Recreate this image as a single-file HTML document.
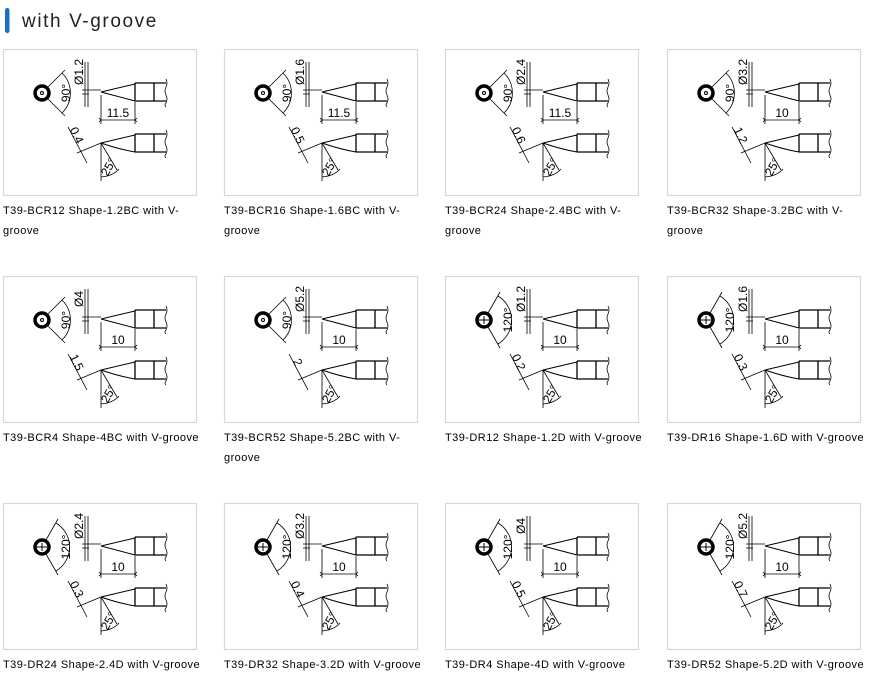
<!DOCTYPE html>
<html><head><meta charset="utf-8">
<style>
html,body{margin:0;padding:0;background:#fff;}
body{width:881px;height:694px;overflow:hidden;}
svg text{font-family:"Liberation Sans","Noto Sans CJK JP",sans-serif;}
.cap{font-size:11px;letter-spacing:0.45px;}
</style></head>
<body>
<svg width="881" height="694" viewBox="0 0 881 694" xmlns="http://www.w3.org/2000/svg">
<defs>
<g id="base" fill="none" stroke="#000" stroke-width="0.8">
  <rect x="0.5" y="0.5" width="193" height="146" stroke="#d8d8d8" stroke-width="1.2"/>
  <path d="M98 43 L132 35 M98 43 L132 52" stroke-width="1"/>
  <path d="M132 34 H163 M132 52 H163 M132 34 V52 M151 34 V52" stroke-width="1.3"/>
  <path d="M163 30 q2 4 0 8 q-2 4 0 8 q2 4 0 8 q-2 2 0 4"/>
  <path d="M82 13 V58 M85 13 V58 M79 41 H98 M79 45 H86"/>
  <path d="M98 46 V75 M132 53 V75 M98 71 H132"/>
  <path d="M96 69 L98 71 L96 73 M134 69 L132 71 L134 73"/>
  <path d="M98 94 L132 86 M98 94 Q115 100 132 103" stroke-width="1"/>
  <path d="M132 85 H163 M132 103 H163 M132 85 V103 M151 85 V103" stroke-width="1.3"/>
  <path d="M163 81 q2 4 0 8 q-2 4 0 8 q2 4 0 8 q-2 2 0 4"/>
  <path d="M65 78 L84 114 M98 94 L74 104"/>
  <path d="M98 94 V132 M98 94 L114 121 M98 128 Q110 127 116 120"/>
</g>
<g id="c90" fill="none" stroke="#000" stroke-width="0.8">
  <circle cx="39" cy="44" r="7" stroke-width="3.5"/>
  <circle cx="39" cy="44" r="1.5" stroke-width="1"/>
  <path d="M45 38 L62 21 M45 50 L62 67 M59 24 A28 28 0 0 1 59 64"/>
</g>
<g id="c120" fill="none" stroke="#000" stroke-width="0.8">
  <circle cx="39" cy="44" r="7" stroke-width="3.5"/>
  <path d="M34 44 H44 M39 40 V48" stroke-width="1"/>
  <path d="M43 37 L55 16 M43 51 L55 72 M53 20 A28 28 0 0 1 53 68"/>
</g>
</defs>

<rect x="5" y="8" width="4.5" height="25" rx="2.2" fill="#1a6fc0"/>
<text x="22" y="27" font-size="19" letter-spacing="1.6" fill="#222">with V-groove</text>

<g font-size="12" fill="#000">
<g transform="translate(3,49)"><use href="#base"/><use href="#c90"/>
<text transform="translate(80,23) rotate(-90)" text-anchor="middle">Ø1.2</text>
<text transform="translate(67,44) rotate(-90)" text-anchor="middle">90°</text>
<text x="115" y="68" text-anchor="middle">11.5</text>
<text transform="translate(70,88) rotate(65)" text-anchor="middle">0.4</text>
<text transform="translate(109,120) rotate(-60)" text-anchor="middle">25°</text></g>

<g transform="translate(224,49)"><use href="#base"/><use href="#c90"/>
<text transform="translate(80,23) rotate(-90)" text-anchor="middle">Ø1.6</text>
<text transform="translate(67,44) rotate(-90)" text-anchor="middle">90°</text>
<text x="115" y="68" text-anchor="middle">11.5</text>
<text transform="translate(70,88) rotate(65)" text-anchor="middle">0.5</text>
<text transform="translate(109,120) rotate(-60)" text-anchor="middle">25°</text></g>

<g transform="translate(445,49)"><use href="#base"/><use href="#c90"/>
<text transform="translate(80,23) rotate(-90)" text-anchor="middle">Ø2.4</text>
<text transform="translate(67,44) rotate(-90)" text-anchor="middle">90°</text>
<text x="115" y="68" text-anchor="middle">11.5</text>
<text transform="translate(70,88) rotate(65)" text-anchor="middle">0.6</text>
<text transform="translate(109,120) rotate(-60)" text-anchor="middle">25°</text></g>

<g transform="translate(667,49)"><use href="#base"/><use href="#c90"/>
<text transform="translate(80,23) rotate(-90)" text-anchor="middle">Ø3.2</text>
<text transform="translate(67,44) rotate(-90)" text-anchor="middle">90°</text>
<text x="115" y="68" text-anchor="middle">10</text>
<text transform="translate(70,88) rotate(65)" text-anchor="middle">1.2</text>
<text transform="translate(109,120) rotate(-60)" text-anchor="middle">25°</text></g>

<g transform="translate(3,276)"><use href="#base"/><use href="#c90"/>
<text transform="translate(80,23) rotate(-90)" text-anchor="middle">Ø4</text>
<text transform="translate(67,44) rotate(-90)" text-anchor="middle">90°</text>
<text x="115" y="68" text-anchor="middle">10</text>
<text transform="translate(70,88) rotate(65)" text-anchor="middle">1.5</text>
<text transform="translate(109,120) rotate(-60)" text-anchor="middle">25°</text></g>

<g transform="translate(224,276)"><use href="#base"/><use href="#c90"/>
<text transform="translate(80,23) rotate(-90)" text-anchor="middle">Ø5.2</text>
<text transform="translate(67,44) rotate(-90)" text-anchor="middle">90°</text>
<text x="115" y="68" text-anchor="middle">10</text>
<text transform="translate(70,88) rotate(65)" text-anchor="middle">2</text>
<text transform="translate(109,120) rotate(-60)" text-anchor="middle">25°</text></g>

<g transform="translate(445,276)"><use href="#base"/><use href="#c120"/>
<text transform="translate(80,23) rotate(-90)" text-anchor="middle">Ø1.2</text>
<text transform="translate(67,44) rotate(-90)" text-anchor="middle">120°</text>
<text x="115" y="68" text-anchor="middle">10</text>
<text transform="translate(70,88) rotate(65)" text-anchor="middle">0.2</text>
<text transform="translate(109,120) rotate(-60)" text-anchor="middle">25°</text></g>

<g transform="translate(667,276)"><use href="#base"/><use href="#c120"/>
<text transform="translate(80,23) rotate(-90)" text-anchor="middle">Ø1.6</text>
<text transform="translate(67,44) rotate(-90)" text-anchor="middle">120°</text>
<text x="115" y="68" text-anchor="middle">10</text>
<text transform="translate(70,88) rotate(65)" text-anchor="middle">0.3</text>
<text transform="translate(109,120) rotate(-60)" text-anchor="middle">25°</text></g>

<g transform="translate(3,503)"><use href="#base"/><use href="#c120"/>
<text transform="translate(80,23) rotate(-90)" text-anchor="middle">Ø2.4</text>
<text transform="translate(67,44) rotate(-90)" text-anchor="middle">120°</text>
<text x="115" y="68" text-anchor="middle">10</text>
<text transform="translate(70,88) rotate(65)" text-anchor="middle">0.3</text>
<text transform="translate(109,120) rotate(-60)" text-anchor="middle">25°</text></g>

<g transform="translate(224,503)"><use href="#base"/><use href="#c120"/>
<text transform="translate(80,23) rotate(-90)" text-anchor="middle">Ø3.2</text>
<text transform="translate(67,44) rotate(-90)" text-anchor="middle">120°</text>
<text x="115" y="68" text-anchor="middle">10</text>
<text transform="translate(70,88) rotate(65)" text-anchor="middle">0.4</text>
<text transform="translate(109,120) rotate(-60)" text-anchor="middle">25°</text></g>

<g transform="translate(445,503)"><use href="#base"/><use href="#c120"/>
<text transform="translate(80,23) rotate(-90)" text-anchor="middle">Ø4</text>
<text transform="translate(67,44) rotate(-90)" text-anchor="middle">120°</text>
<text x="115" y="68" text-anchor="middle">10</text>
<text transform="translate(70,88) rotate(65)" text-anchor="middle">0.5</text>
<text transform="translate(109,120) rotate(-60)" text-anchor="middle">25°</text></g>

<g transform="translate(667,503)"><use href="#base"/><use href="#c120"/>
<text transform="translate(80,23) rotate(-90)" text-anchor="middle">Ø5.2</text>
<text transform="translate(67,44) rotate(-90)" text-anchor="middle">120°</text>
<text x="115" y="68" text-anchor="middle">10</text>
<text transform="translate(70,88) rotate(65)" text-anchor="middle">0.7</text>
<text transform="translate(109,120) rotate(-60)" text-anchor="middle">25°</text></g>
</g>

<g fill="#000">
<text class="cap" x="3" y="214">T39-BCR12 Shape-1.2BC with V-</text>
<text class="cap" x="3" y="234">groove</text>
<text class="cap" x="224" y="214">T39-BCR16 Shape-1.6BC with V-</text>
<text class="cap" x="224" y="234">groove</text>
<text class="cap" x="445" y="214">T39-BCR24 Shape-2.4BC with V-</text>
<text class="cap" x="445" y="234">groove</text>
<text class="cap" x="667" y="214">T39-BCR32 Shape-3.2BC with V-</text>
<text class="cap" x="667" y="234">groove</text>
<text class="cap" x="3" y="441">T39-BCR4 Shape-4BC with V-groove</text>
<text class="cap" x="224" y="441">T39-BCR52 Shape-5.2BC with V-</text>
<text class="cap" x="224" y="461">groove</text>
<text class="cap" x="445" y="441">T39-DR12 Shape-1.2D with V-groove</text>
<text class="cap" x="667" y="441">T39-DR16 Shape-1.6D with V-groove</text>
<text class="cap" x="3" y="668">T39-DR24 Shape-2.4D with V-groove</text>
<text class="cap" x="224" y="668">T39-DR32 Shape-3.2D with V-groove</text>
<text class="cap" x="445" y="668">T39-DR4 Shape-4D with V-groove</text>
<text class="cap" x="667" y="668">T39-DR52 Shape-5.2D with V-groove</text>
</g>
</svg>
</body></html>
